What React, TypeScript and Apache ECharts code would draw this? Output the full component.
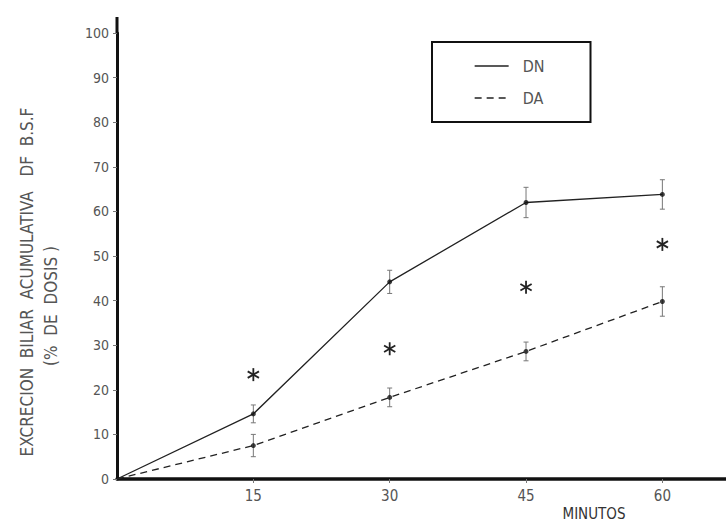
import React, { useEffect, useRef } from "react";
import * as echarts from "echarts";

const minutes = [0, 15, 30, 45, 60];
const dnValues = [0, 14.6, 44.2, 62, 63.8];
const daValues = [0, 7.5, 18.3, 28.6, 39.8];
const dnErrors = [0, 2, 2.6, 3.4, 3.3];
const daErrors = [0, 2.5, 2.1, 2.1, 3.3];
const starMinutes = [15, 30, 45, 60];
const starValues = [23.4, 29.2, 43.0, 52.6];
const xTicks = [15, 30, 45, 60];
const yTitle1 = "EXCRECION  BILIAR  ACUMULATIVA   DF  B.S.F";
const yTitle2 = "(%  DE  DOSIS )";
const xTitle = "MINUTOS";

const FONT = "'DejaVu Sans Condensed', 'DejaVu Sans', sans-serif";
const GRAY = "#555";

export default function App() {
  const ref = useRef<HTMLDivElement>(null);
  useEffect(() => {
    if (!ref.current) return;
    const chart = echarts.init(ref.current, undefined, { renderer: "svg" });
    const dnData = minutes.map((m, i) => [m, dnValues[i]]);
    const daData = minutes.map((m, i) => [m, daValues[i]]);
    const points = minutes
      .slice(1)
      .flatMap((m, i) => [
        [m, dnValues[i + 1]],
        [m, daValues[i + 1]],
      ]);
    const errData = minutes.slice(1).flatMap((m, i) => [
      [m, dnValues[i + 1] - dnErrors[i + 1], dnValues[i + 1] + dnErrors[i + 1]],
      [m, daValues[i + 1] - daErrors[i + 1], daValues[i + 1] + daErrors[i + 1]],
    ]);
    const starData = starMinutes.map((m, i) => [m, starValues[i]]);

    chart.setOption({
      animation: false,
      backgroundColor: "#fff",
      grid: { left: 117, right: 0, top: 33, bottom: 43 },
      legend: {
        data: ["DN", "DA"],
        orient: "vertical",
        left: 432,
        top: 42,
        width: 160,
        itemWidth: 34,
        itemHeight: 14,
        itemGap: 16,
        padding: [16, 46, 16, 42],
        borderColor: "#111",
        borderWidth: 2,
        borderRadius: 0,
        itemStyle: { opacity: 0 },
        textStyle: {
          color: GRAY,
          fontSize: 16,
          fontFamily: FONT,
          padding: [0, 0, 0, 9],
        },
        lineStyle: { width: 1.3, opacity: 1 },
      },
      xAxis: {
        type: "value",
        min: 0,
        max: 67,
        interval: 15,
        axisLine: { show: true, onZero: false, lineStyle: { color: "#111", width: 3.5 } },
        axisTick: { show: true, inside: false, length: 4, lineStyle: { color: "#777", width: 1 } },
        axisLabel: {
          showMinLabel: false,
          showMaxLabel: false,
          color: GRAY,
          fontSize: 15,
          fontFamily: FONT,
          margin: 9,
          formatter: (v: number) => (xTicks.includes(v) ? String(v) : ""),
        },
        splitLine: { show: false },
      },
      yAxis: {
        type: "value",
        min: 0,
        max: 100,
        interval: 10,
        axisLine: { show: true, lineStyle: { color: "#111", width: 3 } },
        axisTick: { show: true, length: 4, lineStyle: { color: "#777", width: 1 } },
        axisLabel: { color: GRAY, fontSize: 14, fontFamily: FONT, margin: 8 },
        splitLine: { show: false },
      },
      graphic: [
        {
          type: "line",
          shape: { x1: 117, y1: 17, x2: 117, y2: 34 },
          style: { stroke: "#111", lineWidth: 3 },
        },
        {
          type: "text",
          x: 27,
          y: 282,
          rotation: Math.PI / 2,
          style: {
            text: yTitle1,
            fill: GRAY,
            fontSize: 17,
            fontFamily: FONT,
            align: "center",
            verticalAlign: "middle",
          },
        },
        {
          type: "text",
          x: 51,
          y: 306,
          rotation: Math.PI / 2,
          style: {
            text: yTitle2,
            fill: GRAY,
            fontSize: 17,
            fontFamily: FONT,
            align: "center",
            verticalAlign: "middle",
          },
        },
        {
          type: "text",
          x: 594,
          y: 514,
          style: {
            text: xTitle,
            fill: "#333",
            fontSize: 15,
            fontFamily: FONT,
            align: "center",
            verticalAlign: "middle",
          },
        },
      ],
      series: [
        {
          name: "DN",
          type: "line",
          data: dnData,
          symbol: "none",
          lineStyle: { color: "#222", width: 1.3, type: "solid" },
          itemStyle: { color: "#222" },
          z: 3,
        },
        {
          name: "DA",
          type: "line",
          data: daData,
          symbol: "none",
          lineStyle: { color: "#222", width: 1.3, type: [7, 5] },
          itemStyle: { color: "#222" },
          z: 3,
        },
        {
          type: "scatter",
          data: points,
          symbol: "circle",
          symbolSize: 5,
          itemStyle: { color: "#111" },
          z: 4,
        },
        {
          type: "custom",
          data: errData,
          z: 2,
          renderItem: (params: any, api: any) => {
            const x = api.value(0);
            const lo = api.coord([x, api.value(1)]);
            const hi = api.coord([x, api.value(2)]);
            const st = { stroke: "#777", lineWidth: 1 };
            return {
              type: "group",
              children: [
                { type: "line", shape: { x1: lo[0], y1: lo[1], x2: hi[0], y2: hi[1] }, style: st },
                { type: "line", shape: { x1: lo[0] - 2.5, y1: lo[1], x2: lo[0] + 2.5, y2: lo[1] }, style: st },
                { type: "line", shape: { x1: hi[0] - 2.5, y1: hi[1], x2: hi[0] + 2.5, y2: hi[1] }, style: st },
              ],
            };
          },
        },
        {
          type: "custom",
          data: starData,
          z: 4,
          renderItem: (params: any, api: any) => {
            const c = api.coord([api.value(0), api.value(1)]);
            const r = 6.5;
            const st = { stroke: "#222", lineWidth: 1.8 };
            const ang = [Math.PI / 2, Math.PI / 6, -Math.PI / 6];
            return {
              type: "group",
              children: ang.map((a) => ({
                type: "line",
                shape: {
                  x1: c[0] - r * Math.cos(a),
                  y1: c[1] - r * Math.sin(a),
                  x2: c[0] + r * Math.cos(a),
                  y2: c[1] + r * Math.sin(a),
                },
                style: st,
              })),
            };
          },
        },
      ],
    });
    return () => chart.dispose();
  }, []);
  return <div ref={ref} style={{ width: 726, height: 522, position: "fixed", left: 0, top: 0 }} />;
}
